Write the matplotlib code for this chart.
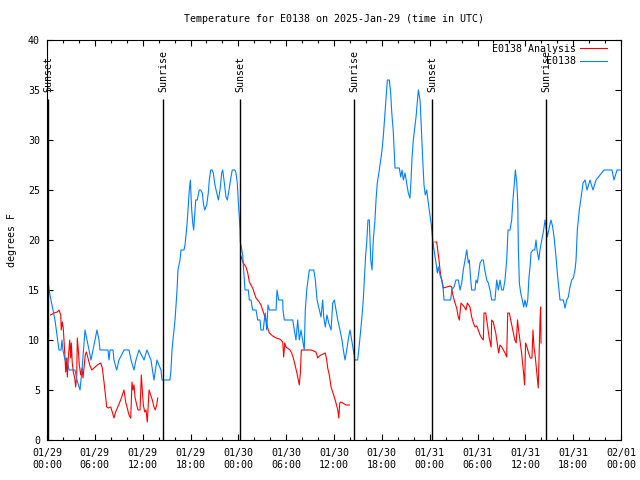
import numpy as np
import pandas as pd
import matplotlib
matplotlib.use('Agg')
import matplotlib.pyplot as plt
import matplotlib.dates as mdates

plt.rcParams['font.family'] = 'DejaVu Sans Mono'
plt.rcParams['font.size'] = 7.2

start = pd.Timestamp('2025-01-29 00:00')

# E0138 observations (hours after 01/29 00:00 UTC, degrees F)
obs_hours = [0.13, 0.25, 0.63, 1.0, 1.25, 1.5, 1.76, 1.88, 2.0, 2.26, 2.51, 2.76, 3.51, 3.76, 4.14,
             4.39, 4.77, 5.02, 5.27, 5.52, 5.77, 6.02, 6.27, 6.52, 6.65, 7.65, 7.78, 7.9, 8.28, 8.4,
             8.74, 9.03, 9.66, 10.28, 10.54, 10.91, 11.16, 11.54, 12.17, 12.54, 13.04, 13.42, 13.79,
             14.3, 14.42, 15.42, 15.55, 15.68, 15.8, 16.06, 16.31, 16.43, 16.68, 16.81, 17.18, 17.31,
             17.43, 17.56, 17.69, 17.85, 17.98, 18.15, 18.28, 18.4, 18.53, 18.65, 18.85, 19.1, 19.28,
             19.48, 19.61, 19.78, 20.03, 20.23, 20.36, 20.53, 20.73, 20.86, 21.07, 21.29, 21.49, 21.7,
             21.91, 22.04, 22.2, 22.45, 22.62, 22.83, 23.08, 23.24, 23.58, 23.71, 23.87, 24.0, 24.12,
             24.21, 24.25, 24.55, 24.62, 24.84, 25.25, 25.38, 25.59, 25.8, 26.22, 26.43, 26.72, 26.84,
             27.13, 27.26, 27.38, 27.56, 27.72, 27.89, 28.73, 28.85, 29.06, 29.57, 29.6, 29.77, 30.82,
             31.02, 31.23, 31.45, 31.65, 31.86, 32.07, 32.27, 32.4, 32.58, 32.74, 32.9, 33.46, 33.66,
             33.87, 34.16, 34.37, 34.58, 34.71, 34.91, 35.12, 35.34, 35.63, 35.84, 36.04, 36.25, 36.47,
             36.75, 37.0, 37.17, 37.38, 37.59, 37.84, 38.01, 38.22, 38.42, 38.63, 38.97, 39.17, 39.47,
             39.67, 39.8, 39.97, 40.1, 40.26, 40.43, 40.61, 40.77, 40.93, 41.14, 41.27, 41.43, 41.68,
             41.98, 42.18, 42.36, 42.52, 42.69, 42.94, 43.11, 43.24, 43.44, 43.65, 44.19, 44.37, 44.53,
             44.7, 44.91, 45.12, 45.32, 45.53, 45.66, 45.79, 45.95, 46.29, 46.58, 46.79, 46.95, 47.13,
             47.29, 47.45, 47.63, 47.83, 48.04, 48.21, 48.38, 48.55, 48.8, 48.96, 49.09, 49.3, 49.51,
             49.71, 49.8, 50.64, 50.77, 51.05, 51.3, 51.59, 51.81, 52.02, 52.22, 52.43, 52.65, 52.85,
             52.97, 53.15, 53.27, 53.69, 53.81, 53.98, 54.15, 54.32, 54.53, 54.73, 54.91, 55.16, 55.36,
             55.57, 55.78, 56.19, 56.41, 56.61, 56.82, 57.04, 57.24, 57.45, 57.66, 57.83, 58.08, 58.29,
             58.42, 58.58, 58.75, 58.93, 59.05, 59.12, 59.25, 59.42, 59.62, 59.8, 59.96, 60.13, 60.3,
             60.46, 60.59, 60.71, 60.93, 61.18, 61.34, 61.47, 61.68, 61.84, 62.06, 62.26, 62.47, 62.59,
             62.76, 63.01, 63.22, 63.43, 63.6, 63.85, 64.01, 64.19, 64.35, 64.77, 64.98, 65.19, 65.39,
             65.6, 65.82, 66.02, 66.23, 66.36, 66.52, 66.77, 66.95, 67.24, 67.49, 67.74, 68.11, 68.49,
             68.87, 69.37, 69.87, 70.87, 71.12, 71.5, 72.0]
obs_temp = [16, 15, 13.5, 12, 10.5, 9, 9, 10, 9, 8, 8, 7, 7, 6, 5,
            7, 11, 10, 9, 8, 9, 10, 11, 10, 9, 9, 8, 9, 9, 8,
            7, 8, 9, 9, 8, 7, 8, 9, 8, 9, 8, 6, 8,
            7, 6, 6, 7, 9, 10, 12, 15, 17, 18, 19, 19, 19.5,
            20.5, 21.5, 23, 25, 26, 23, 21.7, 21, 22.5, 24, 24, 25, 25,
            24.7, 23.7, 23, 23.5, 24.7, 26, 27, 27, 26.7, 25.5, 24.7, 24, 25,
            26.7, 27, 26, 24.3, 24, 25, 26.3, 27, 27, 26.7, 25.7, 23.8, 22.3,
            21, 19.8, 18.5, 17.5, 15, 15, 14, 14, 13, 13, 12, 12, 11,
            11, 12, 12.7, 11, 13.5, 13, 13, 15, 14, 14, 13, 12, 12,
            11, 10, 12, 10, 11, 10, 9, 13, 15, 16, 17, 17, 16,
            14, 13, 12.3, 14, 12.3, 11.3, 12.5, 11.7, 11, 13.7, 14, 13, 12,
            11, 10, 9, 8, 9, 10.3, 11, 10, 9, 8, 8, 9.5, 12,
            14, 16, 18.5, 19.7, 22, 22, 18, 17, 20, 22, 24, 25.7, 27,
            28.7, 30.3, 32.3, 34, 36, 36, 34.7, 32.8, 30.8, 27.2, 27.2, 26.3, 27,
            26, 26.7, 25.7, 24.7, 24.2, 26, 28.3, 30, 32.3, 35, 34, 31.3, 28,
            25.5, 24.5, 25, 23.7, 22.5, 21.5, 20, 19, 17.7, 16.7, 17.3, 16.5, 16,
            15, 14, 14, 15, 15.3, 16, 16, 15, 15.7, 17, 18, 19, 17.7,
            18, 16, 15, 15, 16, 15.7, 16.7, 17.7, 18, 18, 17, 16, 15.7,
            15, 14, 14, 16, 15, 16, 15, 15, 16, 18, 21, 21, 22,
            23.7, 25.3, 27, 25.7, 23.7, 19.3, 15.7, 14.7, 14, 13.3, 14, 13.3, 14,
            16.3, 17.3, 18.7, 19, 19, 20, 19, 18, 19, 20, 20.8, 22, 21.3,
            20.3, 21.3, 22, 21.3, 20.3, 18.3, 16.7, 15.3, 14, 14, 13.2, 14, 14.3,
            15.3, 16, 16.2, 17, 18, 21, 23, 24, 25.7, 26, 25, 26, 25,
            26, 26.5, 27, 27, 26, 27, 27]

# E0138 Analysis (only overnight, gaps as nan)
nan = float('nan')
ana_hours = [0.46, 0.88, 1.29, 1.51, 1.72, 1.79, 1.92, 2.04, 2.22, 2.35, 2.47, 2.55, 2.67, 2.85,
             2.97, 3.05, 3.17, 3.3, 3.47, 3.6, 3.73, 3.8, 3.93, 4.05, 4.23, 4.39, 4.52, 4.68, 4.8,
             4.93, 5.14, 5.36, 5.61, 5.9, 6.31, 6.74, 6.94, 7.15, 7.36, 7.49, 7.69, 7.99, 8.19, 8.4,
             8.57, 8.82, 9.24, 9.66, 9.87, 10.07, 10.29, 10.5, 10.66, 10.79, 10.91, 11.04, 11.25,
             11.42, 11.67, 11.83, 11.95, 12.08, 12.26, 12.42, 12.58, 12.8, 13.01, 13.21, 13.42,
             13.58, 13.76, 13.89, 19.0,
             24.27, 24.62, 24.96, 25.18, 25.38, 25.59, 25.8, 26.0, 26.22, 26.43, 26.63, 26.84,
             27.05, 27.26, 27.47, 27.68, 27.89, 28.31, 28.73, 29.14, 29.35, 29.57, 29.69, 29.82,
             29.98, 30.48, 30.69, 30.9, 31.11, 31.32, 31.52, 31.65, 31.78, 31.9, 33.12, 33.74,
             33.96, 34.16, 34.37, 34.91, 35.09, 35.21, 35.41, 35.63, 35.84, 36.04, 36.25, 36.47,
             36.6, 36.72, 36.88, 37.51, 37.92, 43.0,
             48.67, 48.88, 49.01, 49.17, 49.3, 49.42, 49.59, 49.71, 50.14, 50.55, 50.77, 50.84,
             50.97, 51.18, 51.39, 51.59, 51.72, 51.81, 51.93, 52.14, 52.35, 52.56, 52.72, 53.06,
             53.27, 53.48, 53.69, 53.9, 54.1, 54.32, 54.53, 54.73, 54.82, 55.03, 55.16, 55.28,
             55.45, 55.57, 55.7, 55.78, 55.98, 56.11, 56.29, 56.41, 56.54, 56.66, 56.82, 57.04,
             57.24, 57.45, 57.66, 57.79, 57.99, 58.17, 58.34, 58.5, 58.68, 58.85, 59.02, 59.2,
             59.36, 59.53, 59.66, 59.78, 59.91, 60.03, 60.21, 60.41, 60.62, 60.83, 60.96, 61.08,
             61.25, 61.37, 61.5, 61.62, 61.75, 61.84, 61.92, 61.97]
ana_temp = [12.5, 12.7, 12.8, 13, 12.5, 11, 11.8, 11.2, 8.8, 6.8, 8.2, 6.3, 8.2, 10,
            8.2, 9.7, 7.7, 6.8, 6.2, 5.3, 6.5, 10.2, 9, 7.5, 6.5, 7.2, 6.2, 7.5, 8.5,
            8.8, 8.2, 7.5, 7, 7.2, 7.5, 7.7, 7.2, 5.8, 4.2, 3.3, 3.2, 3.3, 2.8, 2.2,
            2.7, 3.2, 4, 5, 3.8, 3.2, 2.5, 2.2, 5.8, 5, 5.5, 4.3, 3.5,
            3, 3, 6.5, 5, 3.5, 2.8, 3, 1.8, 5, 4.5, 4, 3.3,
            3, 3.5, 4.2, nan,
            18.5, 17.7, 17.3, 16.7, 15.8, 15.5, 15.2, 14.7, 14.2, 14, 13.8, 13.5,
            13, 12.5, 12, 11.2, 10.7, 10.4, 10.2, 10.1, 10, 9.8, 8.3, 9.7,
            9.3, 9, 8.7, 8.2, 7.5, 6.8, 6, 5.5, 6.7, 9, 9, 8.8,
            8.2, 8.4, 8.5, 8.7, 8, 7.2, 6.5, 5.3, 4.8, 4.3, 3.7, 3,
            2.2, 3.7, 3.8, 3.5, 3.5, nan,
            19.8, 19.8, 19, 18, 17, 16.3, 15.8, 15.2, 15.3, 15.4, 15.3, 14.8,
            14.3, 13.7, 13.2, 12.3, 12, 12.7, 13.7, 13.5, 13.3, 13, 13.7, 13.3,
            12.3, 11.7, 11.3, 11.4, 11, 10.5, 10.2, 10, 12.7, 12.7, 12, 11.3,
            10.3, 9.8, 9.3, 12, 11.8, 11.3, 10.7, 10, 9.3, 8.7, 9.5, 9.3,
            9, 8.7, 8.3, 12.7, 12.7, 12, 11.3, 10.7, 10, 9.7, 12, 10.7,
            9.7, 8.7, 7.7, 6.7, 5.5, 9.7, 9.3, 8.7, 8.2, 8.2, 11, 9.3,
            8.3, 7.3, 6.3, 5.2, 9.3, 12, 13.3, 9.7]

sun_hours = [0.13, 14.6, 24.25, 38.55, 48.33, 62.63]
sun_labels = ['Sunset', 'Sunrise', 'Sunset', 'Sunrise', 'Sunset', 'Sunrise']

obs_time = start + pd.to_timedelta(obs_hours, unit='h')
ana_time = start + pd.to_timedelta(ana_hours, unit='h')
sun_time = start + pd.to_timedelta(sun_hours, unit='h')

fig = plt.figure(figsize=(6.4, 4.8), dpi=100)
ax = fig.add_axes([47 / 640, 40 / 480, 574 / 640, 400 / 480])

ax.plot(ana_time, ana_temp, color='#ff0000', lw=0.8, label='E0138 Analysis')
ax.plot(obs_time, obs_temp, color='#0080ff', lw=0.8, label='E0138')

ax.vlines(sun_time, 0, 34.1, color='black', lw=1.0)
for t, s in zip(sun_time, sun_labels):
    ax.text(t, 34.8, s, rotation=90, ha='center', va='bottom')

ax.set_xlim(start, start + pd.Timedelta(hours=72))
ax.set_ylim(0, 40)
ax.set_yticks(range(0, 41, 5))
ax.xaxis.set_major_locator(mdates.HourLocator(byhour=range(0, 24, 6)))
ax.xaxis.set_minor_locator(mdates.HourLocator(interval=2))
ax.xaxis.set_major_formatter(mdates.DateFormatter('%m/%d\n%H:%M'))
ax.tick_params(which='both', direction='in', top=True, right=True, width=0.8)
ax.tick_params(which='major', length=4.5)
ax.tick_params(which='minor', length=2.5)
ax.tick_params(axis='x', which='major', pad=6)
ax.tick_params(axis='y', which='major', pad=5)
for sp in ax.spines.values():
    sp.set_linewidth(0.8)

ax.set_title('Temperature for E0138 on 2025-Jan-29 (time in UTC)', pad=13, fontsize=7.2)
ax.set_ylabel('degrees F')
ax.yaxis.set_label_coords(-0.053, 0.5)

ax.legend(loc='upper right', bbox_to_anchor=(0.979, 0.995), frameon=False, markerfirst=False,
          handlelength=2.7, handletextpad=0.4, labelspacing=0.25, borderaxespad=0, borderpad=0.2)

plt.savefig('out.png', dpi=100)
